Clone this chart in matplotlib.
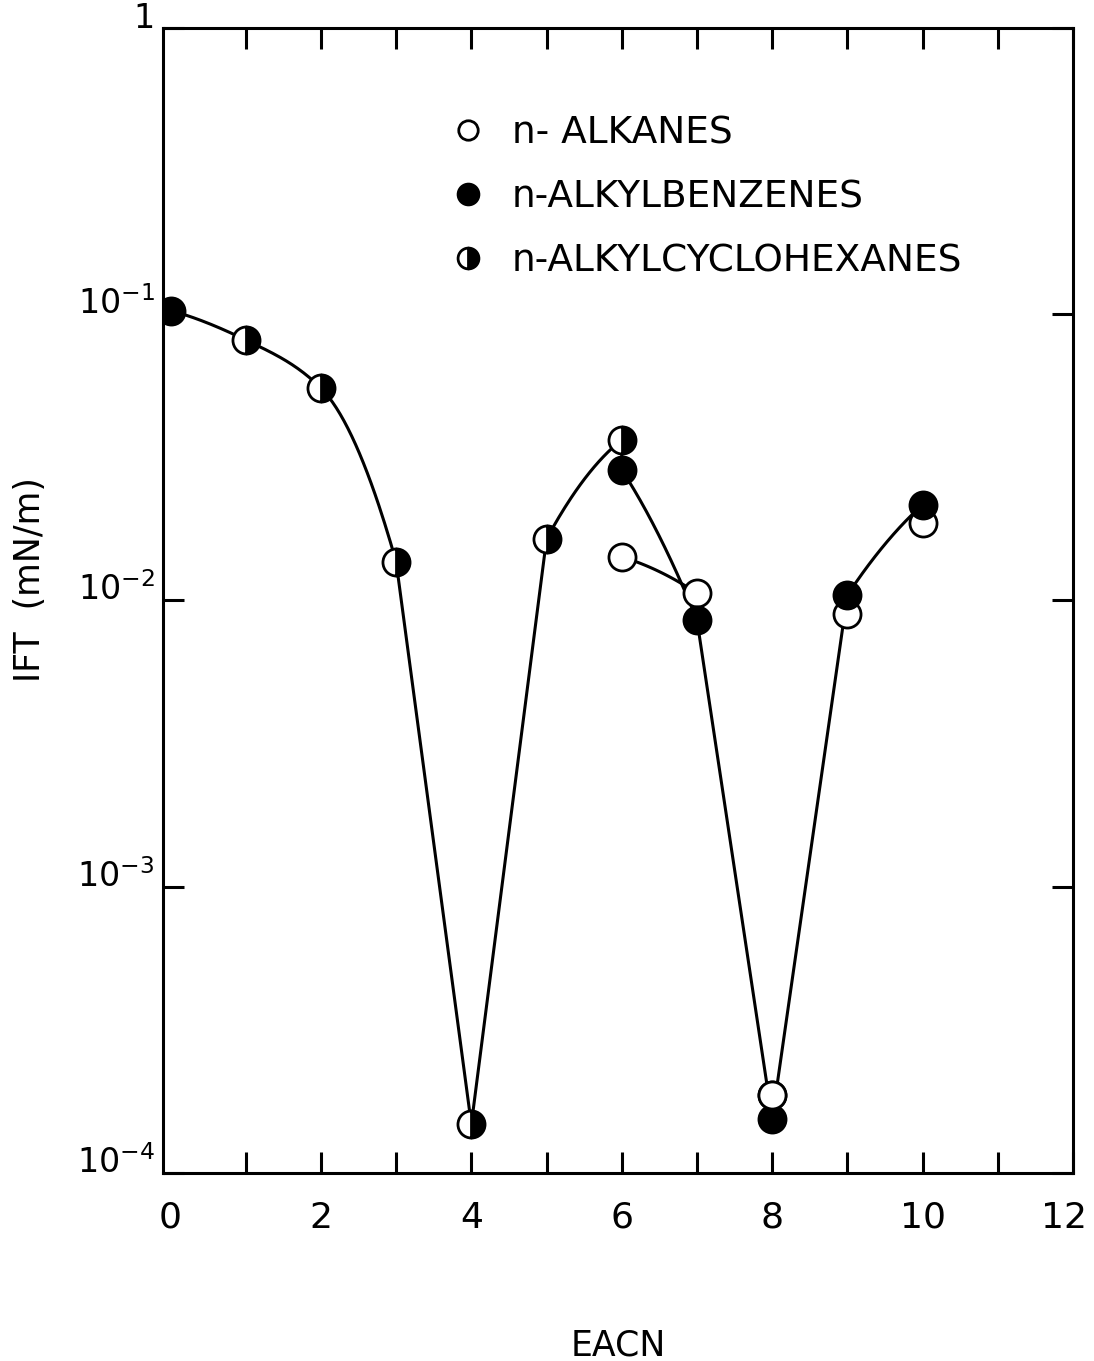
import numpy as np
import matplotlib.pyplot as plt
from matplotlib.lines import Line2D
from matplotlib.transforms import ScaledTranslation

# interfacial tension vs. equivalent alkane carbon number
eacn_alk = [6, 7, 8, 9, 10]
ift_alk = [1.42e-2, 1.06e-2, 1.87e-4, 9.0e-3, 1.87e-2]

eacn_benz = [0, 6, 7, 8, 9, 10]
ift_benz = [1.03e-1, 2.86e-2, 8.55e-3, 1.54e-4, 1.045e-2, 2.16e-2]

eacn_chex = [1, 2, 3, 4, 5, 6]
ift_chex = [8.13e-2, 5.52e-2, 1.364e-2, 1.48e-4, 1.64e-2, 3.64e-2]

ytick_vals = [1e-4, 1e-3, 1e-2, 1e-1, 1]
ytick_labels = [r'$10^{-4}$', r'$10^{-3}$', r'$10^{-2}$', r'$10^{-1}$', '1']


def hermite(x0, y0, x1, y1, m0, m1, n=40):
    t = np.linspace(0, 1, n)
    h = x1 - x0
    y = ((2*t**3 - 3*t**2 + 1)*y0 + (t**3 - 2*t**2 + t)*h*m0
         + (-2*t**3 + 3*t**2)*y1 + (t**3 - t**2)*h*m1)
    return x0 + h*t, y


def chain(xs, ys):
    # monotone cubic in log space; the last point only sets the end slope
    x = np.asarray(xs, float)
    ly = np.log10(ys)
    d = np.diff(ly) / np.diff(x)
    m = np.zeros(len(x))
    m[1:-1] = 2.0 / (1.0/d[:-1] + 1.0/d[1:])
    m[0] = (3*d[0] - d[1]) / 2.0
    px, py = [], []
    for i in range(len(x) - 2):
        a, b = hermite(x[i], ly[i], x[i+1], ly[i+1], m[i], m[i+1])
        px.append(a)
        py.append(b)
    return np.concatenate(px), 10**np.concatenate(py)


def arc(xa, ya, xb, yb, bend, n=50):
    t = np.linspace(0, 1, n)
    la, lb = np.log10(ya), np.log10(yb)
    return xa + (xb - xa)*t, 10**(la + (lb - la)*t + 4*bend*t*(1 - t))


def line(xa, ya, xb, yb):
    return np.array([xa, xb]), np.array([ya, yb])


# main curve through the three families
parts = [
    chain([eacn_benz[0]] + eacn_chex[:4], [ift_benz[0]] + ift_chex[:4]),
    line(eacn_chex[2], ift_chex[2], eacn_chex[3], ift_chex[3]),
    line(eacn_chex[3], ift_chex[3], eacn_chex[4], ift_chex[4]),
    arc(eacn_chex[4], ift_chex[4], eacn_chex[5], ift_chex[5], 0.035),
    line(eacn_chex[5], ift_chex[5], eacn_benz[1], ift_benz[1]),
    arc(eacn_benz[1], ift_benz[1], eacn_benz[2], ift_benz[2], 0.03),
    line(eacn_benz[2], ift_benz[2], eacn_benz[3], ift_benz[3]),
    line(eacn_benz[3], ift_benz[3], eacn_benz[4], ift_benz[4]),
    arc(eacn_benz[4], ift_benz[4], eacn_benz[5], ift_benz[5], 0.02),
]
cx = np.concatenate([p[0] for p in parts])
cy = np.concatenate([p[1] for p in parts])
ax_, ay_ = arc(eacn_alk[0], ift_alk[0], eacn_alk[1], ift_alk[1], 0.012)

fig = plt.figure(figsize=(10.94, 13.61), dpi=100)
ax = fig.add_axes([163/1094, 1 - 1173/1361, 910/1094, 1145/1361])

ax.plot(cx, cy, color='black', lw=2.2, zorder=2)
ax.plot(ax_, ay_, color='black', lw=2.2, zorder=2)

ms = 19.5
mew = 2.0
ax.plot(eacn_alk, ift_alk, ls='none', marker='o', ms=ms, mew=mew,
        mfc='white', mec='black', zorder=3)
ax.plot(eacn_benz, ift_benz, ls='none', marker='o', ms=ms, mew=mew,
        mfc='black', mec='black', zorder=4)
ax.plot(eacn_chex, ift_chex, ls='none', marker='o', ms=ms, mew=mew,
        fillstyle='right', mfc='black', mfcalt='white', mec='black', zorder=5)
# at EACN 8 the alkane circle sits over the benzene one
top = np.array(eacn_alk) == 8
ax.plot(np.array(eacn_alk)[top], np.array(ift_alk)[top], ls='none',
        marker='o', ms=ms, mew=mew, mfc='white', mec='black', zorder=6)

ax.set_yscale('log')
ax.set_xlim(-0.1, 12)
ax.set_ylim(1e-4, 1)

ax.set_xticks(range(13))
ax.set_xticklabels([str(i) if i % 2 == 0 else '' for i in range(13)])
ax.set_yticks(ytick_vals)
ax.set_yticklabels(ytick_labels, va='baseline')
ax.yaxis.set_minor_locator(plt.NullLocator())
ax.tick_params(axis='both', which='major', direction='in', length=15,
               width=2.2, top=True, right=True)
ax.tick_params(axis='x', labelsize=26, pad=20)
ax.tick_params(axis='y', labelsize=24, pad=6)
for s in ax.spines.values():
    s.set_linewidth(2.2)

# the zero tick sits right against the left spine
first = ax.xaxis.get_major_ticks()[0]
first.tick1line.set_visible(False)
first.tick2line.set_visible(False)
last = ax.get_xticklabels()[-1]
last.set_transform(last.get_transform()
                   + ScaledTranslation(-0.09, 0, fig.dpi_scale_trans))

handles = [
    Line2D([], [], ls='none', marker='o', ms=14, mew=2, mfc='white', mec='black'),
    Line2D([], [], ls='none', marker='o', ms=15, mew=2, mfc='black', mec='black'),
    Line2D([], [], ls='none', marker='o', ms=15, mew=2, fillstyle='right',
           mfc='black', mfcalt='white', mec='black'),
]
names = ['n- ALKANES', 'n-ALKYLBENZENES', 'n-ALKYLCYCLOHEXANES']
ax.legend(handles, names, loc='upper left', bbox_to_anchor=(0.315, 0.924),
          frameon=False, fontsize=27, handlelength=1.0, handletextpad=0.65,
          labelspacing=0.75, borderpad=0, borderaxespad=0)

fig.text(30/1094, 1 - 580/1361, 'IFT  (mN/m)', rotation=90, ha='center',
         va='center', fontsize=25)
fig.text(618/1094, 1 - 1345/1361, 'EACN', ha='center', va='center',
         fontsize=25)

fig.savefig('out.png', dpi=100)
